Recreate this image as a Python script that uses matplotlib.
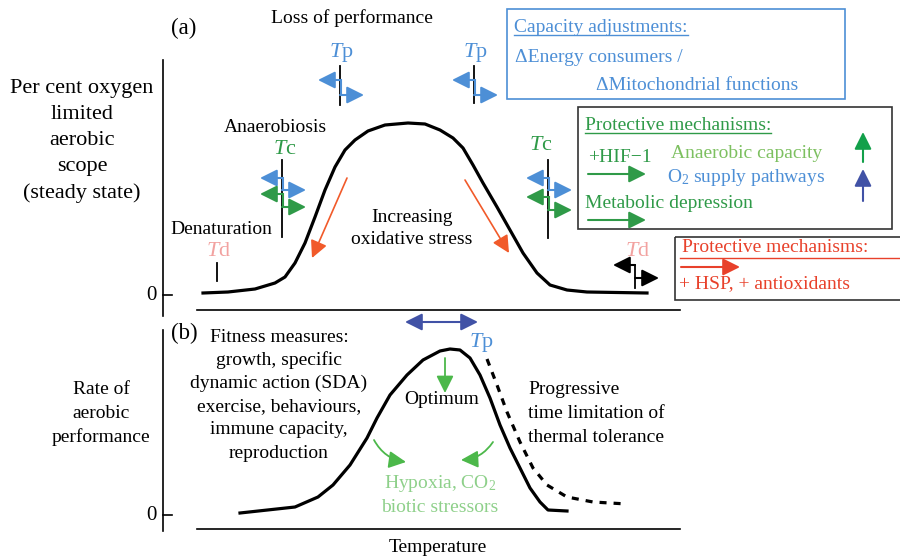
import matplotlib
matplotlib.use("Agg")
import matplotlib.pyplot as plt

plt.rcParams['font.family'] = ['Liberation Serif', 'DejaVu Serif']
plt.rcParams['mathtext.fontset'] = 'custom'
plt.rcParams['mathtext.rm'] = 'Liberation Serif'
plt.rcParams['mathtext.it'] = 'Liberation Serif:italic'

# schematic curves (pixel coordinates of the reference image)
curve_a_x = [203, 228, 255, 275, 285, 295, 305, 315, 325, 335, 345, 355, 368, 385, 408,
             425, 440, 453, 463, 473, 483, 497, 510, 523, 537, 550, 567, 587, 647]
curve_a_y = [293, 292, 289, 283, 277, 263, 243, 217, 190, 167, 150, 140, 131, 125, 123,
             124, 130, 138, 148, 165, 183, 207, 230, 253, 273, 285, 290, 292, 293]
curve_b_x = [240, 295, 318, 333, 350, 367, 377, 390, 407, 423, 440, 450, 460, 470, 480,
             490, 500, 510, 520, 530, 540, 548, 567]
curve_b_y = [513, 507, 497, 485, 465, 438, 418, 395, 375, 360, 351, 349, 350, 358, 375,
             398, 425, 448, 468, 488, 502, 510, 511]
dashed_x = [487, 497, 507, 520, 533, 547, 567, 593, 627]
dashed_y = [359, 385, 412, 442, 468, 485, 497, 502, 504]

ylabel_a = ["Per cent oxygen", "limited", "aerobic", "scope", "(steady state)"]
ylabel_b = ["Rate of", "aerobic", "performance"]
fitness_lines = ["Fitness measures:", "growth, specific", "dynamic action (SDA)",
                 "exercise, behaviours,", "immune capacity,", "reproduction"]
progressive_lines = ["Progressive", "time limitation of", "thermal tolerance"]

BLUE = '#4d8fd6'
DBLUE = '#4152a6'
GREEN = '#2f9a48'
LGREEN = '#7dc060'
PINK = '#f2a2a0'
RED = '#e8412b'
ORANGE = '#f15a2a'

fig = plt.figure(figsize=(9, 5.59), dpi=100)
ax = fig.add_axes([0, 0, 1, 1])
ax.set_xlim(0, 900)
ax.set_ylim(559, 0)
ax.axis('off')

FS = 14
TFS = 16


def arrow(x0, y0, x1, y1, color, lw=1.5, scale=13, style='-|>', **kw):
    ax.annotate('', xy=(x1, y1), xytext=(x0, y0),
                arrowprops=dict(arrowstyle=style + ',head_length=0.8,head_width=0.4',
                                color=color, lw=lw, mutation_scale=scale,
                                shrinkA=0, shrinkB=0, **kw))


def marker(x, ytop, ybot, rows):
    # vertical line with stepped left/right arrows
    ax.plot([x, x], [ytop, ybot], color='k', lw=1.3)
    for (yl, yr, c) in rows:
        arrow(x, yl, x - 22, yl, c)
        ax.plot([x + 1, x + 1], [yl, yr], color=c, lw=1.5)
        arrow(x, yr, x + 24, yr, c)


def tlabel(x, y, sub, color):
    ax.text(x, y, r'$T$' + sub, color=color, fontsize=TFS, ha='center', va='center')


def underlined(x, y, s, color, lw=1.0):
    t = ax.text(x, y, s, color=color, fontsize=FS, ha='left', va='center')
    fig.canvas.draw()
    bb = t.get_window_extent().transformed(ax.transData.inverted())
    yb = max(bb.y0, bb.y1) - 1
    ax.plot([bb.x0, bb.x1], [yb, yb], color=color, lw=lw)


# axes
ax.plot([163, 163], [60, 316], color='k', lw=1.2)
ax.plot([163, 172], [295, 295], color='k', lw=1.2)
ax.plot([197, 680], [310, 310], color='k', lw=1.2)
ax.plot([163, 163], [330, 531], color='k', lw=1.2)
ax.plot([163, 172], [515, 515], color='k', lw=1.2)
ax.plot([197, 680], [529, 529], color='k', lw=1.2)
ax.text(151, 295, "0", fontsize=15, ha='center', va='center')
ax.text(151, 515, "0", fontsize=15, ha='center', va='center')
ax.text(438, 548, "Temperature", fontsize=FS, ha='center', va='center')

for i, s in enumerate(ylabel_a):
    ax.text(82, 88 + i * 26.3, s, fontsize=16, ha='center', va='center')
for i, s in enumerate(ylabel_b):
    ax.text(101, 390 + i * 23.5, s, fontsize=14, ha='center', va='center')

ax.text(184, 28, "(a)", fontsize=16.5, ha='center', va='center')
ax.text(352, 18, "Loss of performance", fontsize=FS, ha='center', va='center')
ax.text(184, 333, "(b)", fontsize=16.5, ha='center', va='center')

# curves
ax.plot(curve_a_x, curve_a_y, color='k', lw=2.3, solid_joinstyle='round')
ax.plot(curve_b_x, curve_b_y, color='k', lw=2.3, solid_joinstyle='round')
ax.plot(dashed_x, dashed_y, color='k', lw=2.3, ls=(0, (2.2, 2.2)))

# panel (a) markers
tlabel(341, 52, 'p', BLUE)
marker(340, 66, 105, [(80, 95, BLUE)])
tlabel(475, 52, 'p', BLUE)
marker(474, 66, 103, [(80, 95, BLUE)])

ax.text(275, 128, "Anaerobiosis", fontsize=FS, ha='center', va='center')
tlabel(285, 150, 'c', GREEN)
marker(282, 160, 237, [(178, 190, BLUE), (194, 207, GREEN)])
tlabel(541, 145, 'c', GREEN)
marker(548, 160, 238, [(178, 190, BLUE), (197, 210, GREEN)])

ax.text(221, 230, "Denaturation", fontsize=FS, ha='center', va='center')
tlabel(219, 251, 'd', PINK)
ax.plot([217, 217], [263, 281], color='k', lw=1.3)
tlabel(638, 251, 'd', PINK)
ax.plot([635, 635], [265, 288], color='k', lw=1.3)
arrow(635, 265, 613, 265, 'k')
arrow(635, 278, 659, 278, 'k')

arrow(347, 178, 312, 258, ORANGE, lw=1.2)
arrow(465, 180, 509, 253, ORANGE, lw=1.2)
ax.text(412, 217, "Increasing", fontsize=FS, ha='center', va='center')
ax.text(412, 240, "oxidative stress", fontsize=FS, ha='center', va='center')

# capacity box
ax.add_patch(plt.Rectangle((507, 9), 338, 90, fill=False, ec=BLUE, lw=1.2))
underlined(514, 27, "Capacity adjustments:", BLUE)
ax.text(515, 58, "\u0394Energy consumers /", color=BLUE, fontsize=FS, ha='left', va='center')
ax.text(596, 85, "\u0394Mitochondrial functions", color=BLUE, fontsize=FS, ha='left', va='center')

# protective box (green)
ax.add_patch(plt.Rectangle((578, 107), 314, 122, fill=False, ec='#333333', lw=1.2))
underlined(585, 125, "Protective mechanisms:", GREEN)
ax.text(588, 158, "+HIF\u22121", color=GREEN, fontsize=FS, ha='left', va='center')
arrow(588, 174, 646, 174, GREEN)
ax.text(671, 153, "Anaerobic capacity", color=LGREEN, fontsize=FS, ha='left', va='center')
ax.text(667, 178, "O$_2$ supply pathways", color=BLUE, fontsize=FS, ha='left', va='center')
ax.text(585, 203, "Metabolic depression", color=GREEN, fontsize=FS, ha='left', va='center')
arrow(588, 220, 646, 220, GREEN)
arrow(863, 162, 863, 132, '#13a04a')
arrow(863, 201, 863, 169, DBLUE)

# protective box (red)
ax.add_patch(plt.Rectangle((675, 237), 230, 63, fill=False, ec='#333333', lw=1.2))
ax.text(682, 248, "Protective mechanisms:", color=RED, fontsize=FS, ha='left', va='center')
ax.plot([680, 900], [258, 258], color=RED, lw=1.0)
arrow(681, 267, 740, 267, RED)
ax.text(679, 284, "+ HSP, + antioxidants", color=RED, fontsize=FS, ha='left', va='center')

# panel (b)
arrow(405, 322, 478, 322, DBLUE, style='<|-|>')
ax.text(481, 342, r'$T$p', color=BLUE, fontsize=TFS, ha='center', va='center')
arrow(445, 358, 445, 393, '#4cb84a', lw=1.3)
ax.text(442, 400, "Optimum", fontsize=FS, ha='center', va='center')
arrow(374, 440, 406, 462, '#4cb84a', lw=1.3, connectionstyle='arc3,rad=0.25')
arrow(493, 442, 461, 460, '#4cb84a', lw=1.3, connectionstyle='arc3,rad=-0.25')
ax.text(440, 484, "Hypoxia, CO$_2$", color='#8ed08a', fontsize=FS, ha='center', va='center')
ax.text(440, 507, "biotic stressors", color='#8ed08a', fontsize=FS, ha='center', va='center')

for i, s in enumerate(fitness_lines):
    ax.text(279, 337 + i * 23.2, s, fontsize=FS, ha='center', va='center')
for i, s in enumerate(progressive_lines):
    ax.text(528, 390 + i * 23.5, s, fontsize=FS, ha='left', va='center')

fig.savefig('out.png', dpi=100)
